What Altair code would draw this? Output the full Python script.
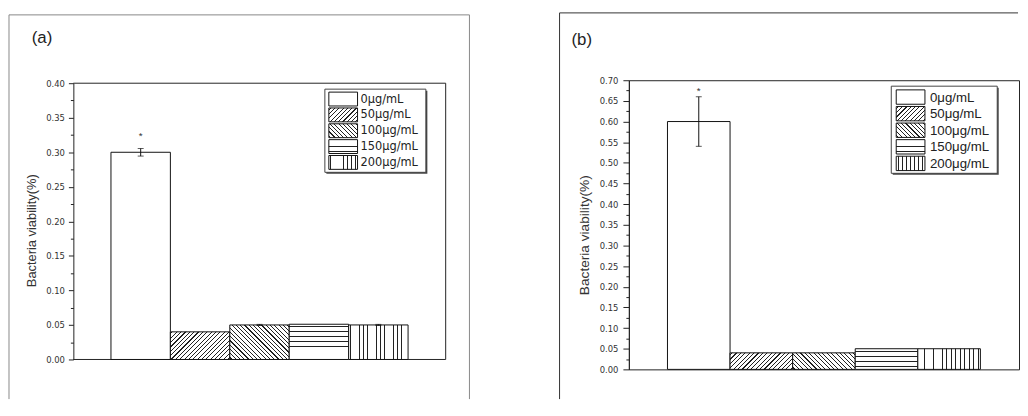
import math
import altair as alt
import pandas as pd

# ---------------- data ----------------
doses = ["0μg/mL", "50μg/mL", "100μg/mL", "150μg/mL", "200μg/mL"]
patterns = ["none", "fwd", "back", "h", "v"]
stars = ["*", "", "", "", ""]

a_values = [0.300, 0.040, 0.050, 0.051, 0.050]
a_errors = [0.0055, 0.0, 0.0008, 0.0, 0.0008]
b_values = [0.600, 0.040, 0.040, 0.050, 0.050]
b_errors = [0.060, 0.0, 0.0, 0.0, 0.0]

a_major = [0.00, 0.05, 0.10, 0.15, 0.20, 0.25, 0.30, 0.35, 0.40]
a_minor = [0.025, 0.075, 0.125, 0.175, 0.225, 0.275, 0.325, 0.375]
b_major = [0.00, 0.05, 0.10, 0.15, 0.20, 0.25, 0.30, 0.35, 0.40, 0.45, 0.50, 0.55, 0.60, 0.65, 0.70]
b_minor = [0.025, 0.075, 0.125, 0.175, 0.225, 0.275, 0.325, 0.375, 0.425, 0.475, 0.525, 0.575, 0.625, 0.675]

panel_labels = ["(a)", "(b)"]
y_title = "Bacteria viability(%)"

LINE = "#222222"


def hatch(kind, w, h):
    """Linear-gradient stripes imitating a hatch pattern (style only)."""
    if kind == "none":
        return "white"
    if kind == "h":
        L, sp, v = h, 5.0, (0, 0, 0, 1)
    elif kind == "v":
        L, sp, v = w, 4.4, (0, 0, 1, 0)
    else:
        s = w * w + h * h
        dx = w * (w + h) / s
        dy = h * (w + h) / s
        L, sp = (w + h) / math.sqrt(2), 3.1
        v = (0, 0, dx, dy) if kind == "fwd" else (0, 1, dx, 1 - dy)
    n = max(1, round(L / sp))
    d = 0.4 / L
    stops = [{"offset": 0, "color": "white"}]
    for i in range(n):
        c = (i + 0.5) / n
        lo, hi = round(c - d, 5), round(c + d, 5)
        stops += [
            {"offset": lo, "color": "white"},
            {"offset": lo, "color": LINE},
            {"offset": hi, "color": LINE},
            {"offset": hi, "color": "white"},
        ]
    stops.append({"offset": 1, "color": "white"})
    return {"gradient": "linear", "x1": round(v[0], 5), "y1": round(v[1], 5),
            "x2": round(v[2], 5), "y2": round(v[3], 5), "stops": stops}


def panel(values, errors, major, minor, ymax, label, g):
    W, H, po = g["W"], g["H"], g["po"]
    ytop, ybot = g["yr"]
    PH = ybot - ytop
    df = pd.DataFrame({"dose": doses, "value": values, "err": errors, "star": stars})
    df["top"] = df["value"] + df["err"]
    df["low"] = df["value"] - df["err"]
    one = pd.DataFrame({"k": [0]})
    step = W / (len(doses) + 2 * po)

    xenc = alt.X("dose:N", sort=doses,
                 scale=alt.Scale(domain=doses, paddingInner=0, paddingOuter=po),
                 axis=None)
    yscale = alt.Scale(domain=[0, ymax], nice=False, zero=True, range=[ybot, ytop])
    test = "abs(datum.value*20 - round(datum.value*20)) < 0.001"
    axis = alt.Axis(
        title=y_title, values=sorted(major + minor),
        labelExpr=f"{test} ? format(datum.value, '.2f') : ''",
        tickSize={"condition": {"test": test, "value": g["tick"]}, "value": 3},
        labelPadding=g["lpad"], labelFont="DejaVu Sans", labelFontSize=8.5,
        labelOverlap=False, labelFlush=False,
        titleFont="Liberation Sans", titleFontSize=g["tfs"], titleFontWeight="normal",
        titleAngle=270, titleAlign="center", titleBaseline="bottom",
        titleX=g["tx"], titleY=g["ty"], grid=False,
    )

    def Y(field):
        return alt.Y(f"{field}:Q", scale=yscale, axis=axis)

    layers = []
    # outer figure frame + invisible bounds marker
    layers.append(alt.Chart(one).mark_rule(strokeOpacity=0).encode(
        x=alt.value(g["fx0"]), x2=alt.value(g["fx0"] + 10), y=alt.value(g["btop"])))
    layers.append(alt.Chart(one).mark_rule(color=g["fcol"]).encode(
        x=alt.value(g["fx0"]), y=alt.value(g["fy0"]), y2=alt.value(g["fy1"])))
    layers.append(alt.Chart(one).mark_rule(color=g["fcol"]).encode(
        x=alt.value(g["fx0"]), x2=alt.value(g["fx1"]), y=alt.value(g["fy0"])))
    if g.get("fright"):
        layers.append(alt.Chart(one).mark_rule(color=g["fcol"]).encode(
            x=alt.value(g["fx1"]), y=alt.value(g["fy0"]), y2=alt.value(g["fy1"])))
    # plot box when the scale range is inset from the view
    if g.get("ownbox"):
        for enc in (
            dict(x=alt.value(0), x2=alt.value(W), y=alt.value(ytop)),
            dict(x=alt.value(0), x2=alt.value(W), y=alt.value(ybot)),
            dict(x=alt.value(W), y=alt.value(ytop), y2=alt.value(ybot)),
        ):
            layers.append(alt.Chart(one).mark_rule(color="#222").encode(**enc))
    # panel label
    layers.append(alt.Chart(pd.DataFrame({"label": [label]})).mark_text(
        align="left", baseline="middle", fontSize=17, font="Liberation Sans", color="#222").encode(
        x=alt.value(g["lx"]), y=alt.value(g["ly"]), text="label:N"))

    # bars
    for d, pat, val in zip(doses, patterns, values):
        h = val / ymax * PH
        layers.append(alt.Chart(df).transform_filter(alt.datum.dose == d).mark_bar(
            fill=hatch(pat, step, h), stroke="#111", strokeWidth=1).encode(x=xenc, y=Y("value")))

    # error bars
    eb = alt.Chart(df).transform_filter(alt.datum.err > 0)
    layers.append(eb.mark_rule(color="#111").encode(x=xenc, y=Y("low"), y2="top:Q"))
    layers.append(eb.mark_tick(color="#111", size=6, thickness=1).encode(x=xenc, y=Y("top")))
    layers.append(eb.mark_tick(color="#111", size=6, thickness=1).encode(x=xenc, y=Y("low")))
    # significance star
    layers.append(alt.Chart(df).mark_text(fontSize=10, baseline="alphabetic", dy=g["sdy"],
                                          color="#333", font="Liberation Sans").encode(
        x=xenc, y=Y("top"), text="star:N"))

    # legend (drawn)
    bx0, bx1, by0, by1 = g["box"]
    layers.append(alt.Chart(one).mark_rect(fill="#444").encode(
        x=alt.value(bx0 + 1.5), x2=alt.value(bx1 + 1.5), y=alt.value(by0 + 1.5), y2=alt.value(by1 + 1.5)))
    layers.append(alt.Chart(one).mark_rect(fill="white", stroke="#444", strokeWidth=1).encode(
        x=alt.value(bx0), x2=alt.value(bx1), y=alt.value(by0), y2=alt.value(by1)))
    sx0, sx1 = g["sw"]
    hh = g["sh"] / 2
    for i, (d, pat) in enumerate(zip(doses, patterns)):
        cy = g["r0"] + i * g["rp"]
        layers.append(alt.Chart(df).transform_filter(alt.datum.dose == d).mark_rect(
            fill=hatch(pat, sx1 - sx0, 2 * hh), stroke="#111", strokeWidth=1).encode(
            x=alt.value(sx0), x2=alt.value(sx1), y=alt.value(cy - hh), y2=alt.value(cy + hh)))
        layers.append(alt.Chart(df).transform_filter(alt.datum.dose == d).mark_text(
            align="left", baseline="middle", font=g["lfont"], fontSize=g["lfs"], color="#222").encode(
            x=alt.value(g["tx0"]), y=alt.value(cy + 0.5), text="dose:N"))

    view = alt.ViewBackground(stroke=g["vstroke"], strokeWidth=1)
    return alt.layer(*layers).properties(width=W, height=H, view=view)


# panel (a): view 73..449 x 78..360, scale range inset 3px at top (0.40 at y=81)
ga = dict(W=376, H=282, yr=(3, 282), po=0.633, tick=5, lpad=4, tfs=13, tx=-35.5, ty=151.5,
          fx0=-65, fx1=400, fy0=-66, fy1=322, fright=True, btop=-70, fcol="#888",
          lx=-42, ly=-43, sdy=-10, ownbox=True, vstroke="transparent",
          box=(254, 356, 9, 93), sw=(258, 287), sh=14, r0=19, rp=16,
          tx0=290, lfont="DejaVu Sans", lfs=11.5)
# panel (b): view 633..1027 x 78..370
gb = dict(W=394, H=292, yr=(0, 292), po=0.617, tick=6, lpad=5, tfs=13.8, tx=-37.5, ty=156,
          fx0=-70, fx1=393, fy0=-68, fy1=322, fright=False, btop=-70, fcol="#333",
          lx=-58, ly=-41, sdy=-3, ownbox=False, vstroke="#222",
          box=(265, 372, 6, 94), sw=(270, 299), sh=14.5, r0=17, rp=16.75,
          tx0=304, lfont="Liberation Sans", lfs=13.4)

pa = panel(a_values, a_errors, a_major, a_minor, 0.40, panel_labels[0], ga)
pb = panel(b_values, b_errors, b_major, b_minor, 0.70, panel_labels[1], gb)

chart = alt.hconcat(pa, pb, spacing=89).properties(padding=0).configure_axis(
    grid=False, domainColor="#222", tickColor="#222", labelColor="#333", titleColor="#333",
    domainWidth=1, tickWidth=1
)

chart.save("out.html", embed_options={"renderer": "svg", "actions": False})
